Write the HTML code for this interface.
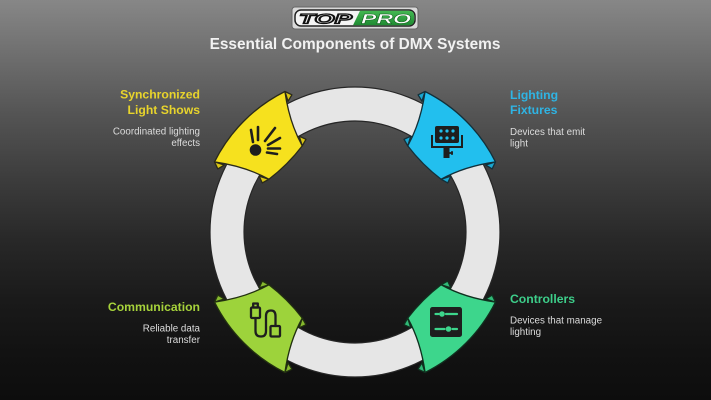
<!DOCTYPE html>
<html>
<head>
<meta charset="utf-8">
<style>
  html,body{margin:0;padding:0;}
  body{width:711px;height:400px;overflow:hidden;
    background:linear-gradient(to bottom,#878787 0%,#6e6e6e 14%,#555 28%,#3c3c3c 45%,#282828 60%,#1a1a1a 75%,#111 90%,#0d0d0d 100%);}
  svg{display:block;}
  text{font-family:"Liberation Sans",Arial,sans-serif;}
</style>
</head>
<body>
<svg width="711" height="400" viewBox="0 0 711 400" xmlns="http://www.w3.org/2000/svg">
  <defs>
    <g id="piece">
      <path d="M -49.8,-148.9 A157,157 0 0 1 49.8,-148.9 Q 31,-124 23.6,-98.2 Q 0,-95 -23.6,-98.2 Q -31,-124 -49.8,-148.9 Z"/>
    </g>
    <g id="flaps">
      <path d="M 49.8,-148.9 L 52.4,-141.6 L 45.1,-139.8 Z"/>
      <path d="M 28.3,-107.3 L 30.9,-100.2 L 23.6,-98.2 Z"/>
      <path d="M -49.8,-148.9 L -52.4,-141.6 L -45.1,-139.8 Z"/>
      <path d="M -28.3,-107.3 L -30.9,-100.2 L -23.6,-98.2 Z"/>
    </g>
    <linearGradient id="grn" x1="0" y1="0" x2="0" y2="1">
      <stop offset="0" stop-color="#43b852"/>
      <stop offset="1" stop-color="#1f8a32"/>
    </linearGradient>
  </defs>

  <!-- Logo -->
  <rect x="292" y="7" width="126" height="22" rx="3" fill="#d9d9d9" stroke="#666" stroke-width="1"/>
  <rect x="295" y="10" width="120" height="16" rx="6" fill="#f4f4f4" stroke="#222" stroke-width="1.5"/>
  <path d="M 360,10.8 L 409,10.8 Q 414.2,10.8 414.2,16 L 414.2,20 Q 414.2,25.2 409,25.2 L 353,25.2 Z" fill="url(#grn)"/>
  <text x="299" y="23.5" font-size="14" font-weight="bold" font-style="italic" fill="#f0f0f0" stroke="#111" stroke-width="1.3" textLength="53" lengthAdjust="spacingAndGlyphs">TOP</text>
  <text x="361" y="23.5" font-size="14" font-weight="bold" font-style="italic" fill="#ffffff" stroke="#0e5a1a" stroke-width="0.4" textLength="50" lengthAdjust="spacingAndGlyphs">PRO</text>

  <!-- Title -->
  <text x="355" y="49" font-size="15.4" font-weight="bold" fill="#f2f2f2" text-anchor="middle">Essential Components of DMX Systems</text>

  <!-- Ring -->
  <circle cx="355" cy="232" r="128" fill="none" stroke="#e6e6e6" stroke-width="34"/>
  <circle cx="355" cy="232" r="145" fill="none" stroke="#262626" stroke-width="1.2"/>
  <circle cx="355" cy="232" r="111" fill="none" stroke="#262626" stroke-width="1.2"/>

  <!-- Pieces -->
  <g transform="translate(355,232) rotate(-45)" stroke="#2a2a1a" stroke-width="1.3" stroke-linejoin="round">
    <use href="#piece" fill="#f6e11e"/>
    <use href="#flaps" fill="#d9c516"/>
  </g>
  <g transform="translate(355,232) rotate(45)" stroke="#13303a" stroke-width="1.3" stroke-linejoin="round">
    <use href="#piece" fill="#22bfee"/>
    <use href="#flaps" fill="#1aa6d0"/>
  </g>
  <g transform="translate(355,232) rotate(-135)" stroke="#223010" stroke-width="1.3" stroke-linejoin="round">
    <use href="#piece" fill="#9dd33b"/>
    <use href="#flaps" fill="#86b92e"/>
  </g>
  <g transform="translate(355,232) rotate(135)" stroke="#10301f" stroke-width="1.3" stroke-linejoin="round">
    <use href="#piece" fill="#3dd68c"/>
    <use href="#flaps" fill="#30ba77"/>
  </g>

  <!-- Yellow icon: light burst -->
  <g stroke="#1e1e1e" stroke-width="2.6" stroke-linecap="round" fill="none">
    <line x1="251" y1="130" x2="253" y2="142"/>
    <line x1="258" y1="127" x2="258" y2="140"/>
    <line x1="275" y1="128" x2="265" y2="141"/>
    <line x1="280" y1="138" x2="268" y2="145"/>
    <line x1="280" y1="148.5" x2="268" y2="148.5"/>
    <line x1="277" y1="154" x2="267" y2="152.5"/>
  </g>
  <circle cx="255.5" cy="150" r="5.8" fill="#1e1e1e"/>

  <!-- Blue icon: LED panel -->
  <rect x="435" y="126" width="24" height="17" rx="2" fill="#1e1e1e"/>
  <g fill="#22bfee">
    <circle cx="441" cy="131" r="1.6"/><circle cx="447" cy="131" r="1.6"/><circle cx="453" cy="131" r="1.6"/>
    <circle cx="441" cy="138" r="1.6"/><circle cx="447" cy="138" r="1.6"/><circle cx="453" cy="138" r="1.6"/>
  </g>
  <path d="M 432,135 V 147 H 462 V 135" fill="none" stroke="#1e1e1e" stroke-width="2"/>
  <rect x="443.5" y="147" width="6" height="11" fill="#1e1e1e"/>
  <line x1="449" y1="153" x2="453" y2="153" stroke="#1e1e1e" stroke-width="1.8"/>
  <line x1="452" y1="151" x2="452" y2="155" stroke="#1e1e1e" stroke-width="1.5"/>

  <!-- Lime icon: cable -->
  <g fill="none" stroke="#1e1e1e" stroke-width="2.3" stroke-linejoin="round" stroke-linecap="round">
    <rect x="251" y="307.5" width="9" height="10.5" rx="1"/>
    <rect x="253.2" y="303.5" width="4.6" height="4"/>
    <path d="M 255.5,318 V 331 Q 255.5,336.5 261,336.5 Q 266,336.5 266,331 V 316 Q 266,310.5 271,310.5 Q 275.5,310.5 275.5,316 V 326"/>
    <rect x="270.5" y="326" width="9.5" height="10.5" rx="1"/>
  </g>

  <!-- Green icon: sliders -->
  <rect x="430" y="307" width="32" height="30" rx="2.5" fill="#1e1e1e"/>
  <g stroke="#3dd68c" stroke-width="2.2" stroke-linecap="round" fill="#3dd68c">
    <line x1="435.5" y1="314" x2="438.5" y2="314"/>
    <circle cx="442" cy="314" r="2.8" stroke="none"/>
    <line x1="446" y1="314" x2="457" y2="314"/>
    <line x1="435.5" y1="329" x2="444.5" y2="329"/>
    <circle cx="448.5" cy="329" r="2.8" stroke="none"/>
    <line x1="452.5" y1="329" x2="457" y2="329"/>
  </g>

  <!-- Labels left -->
  <text x="200" y="98.5" font-size="12.2" font-weight="bold" fill="#e8d42c" text-anchor="end">Synchronized</text>
  <text x="200" y="114" font-size="12.2" font-weight="bold" fill="#e8d42c" text-anchor="end">Light Shows</text>
  <text x="200" y="134.5" font-size="9.8" fill="#dcdcdc" text-anchor="end">Coordinated lighting</text>
  <text x="200" y="146" font-size="9.8" fill="#dcdcdc" text-anchor="end">effects</text>

  <text x="200" y="311" font-size="12.2" font-weight="bold" fill="#a6d23b" text-anchor="end">Communication</text>
  <text x="200" y="331.5" font-size="9.8" fill="#dcdcdc" text-anchor="end">Reliable data</text>
  <text x="200" y="343" font-size="9.8" fill="#dcdcdc" text-anchor="end">transfer</text>

  <!-- Labels right -->
  <text x="510" y="99" font-size="12.2" font-weight="bold" fill="#2fb4e4">Lighting</text>
  <text x="510" y="114" font-size="12.2" font-weight="bold" fill="#2fb4e4">Fixtures</text>
  <text x="510" y="135" font-size="9.8" fill="#dcdcdc">Devices that emit</text>
  <text x="510" y="146.5" font-size="9.8" fill="#dcdcdc">light</text>

  <text x="510" y="303" font-size="12.2" font-weight="bold" fill="#3dce8a">Controllers</text>
  <text x="510" y="323.5" font-size="9.8" fill="#dcdcdc">Devices that manage</text>
  <text x="510" y="335" font-size="9.8" fill="#dcdcdc">lighting</text>
</svg>
</body>
</html>
